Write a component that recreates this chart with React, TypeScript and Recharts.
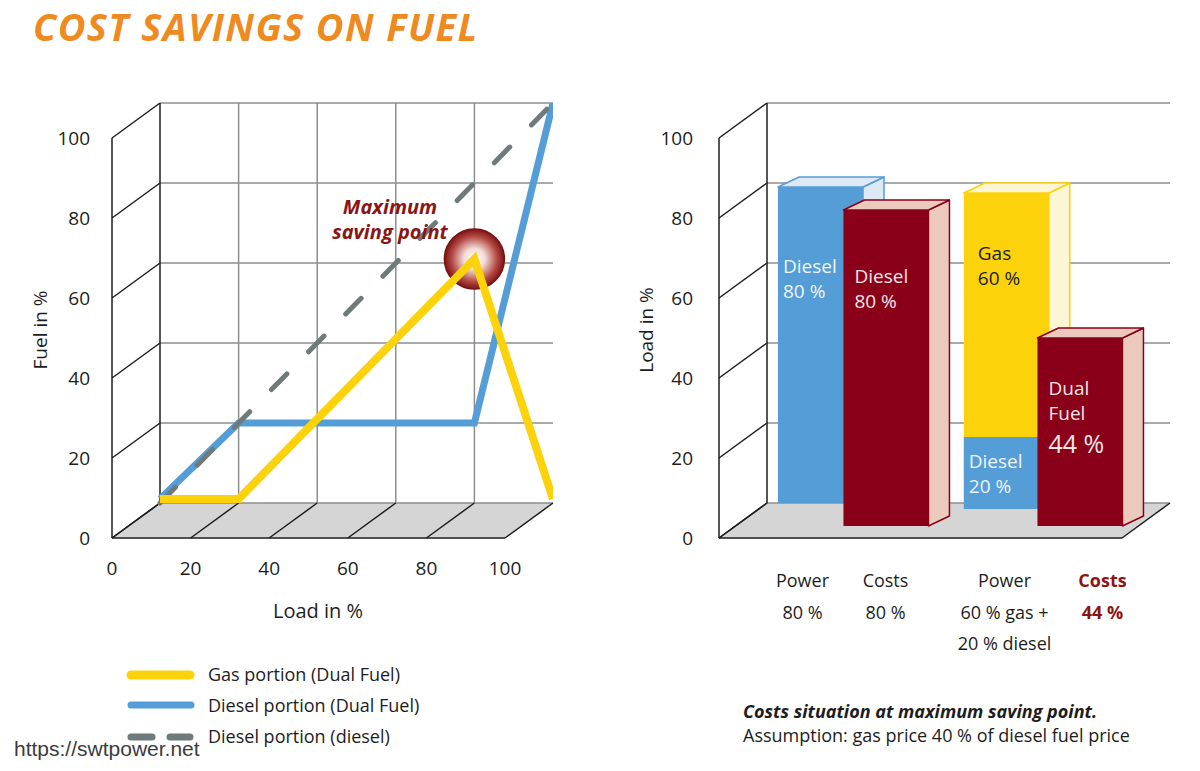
import {
  Area,
  Bar,
  BarChart,
  ComposedChart,
  Line,
  LineChart,
  ReferenceDot,
  ReferenceLine,
  XAxis,
  YAxis,
} from 'recharts';

// left chart: fuel share against engine load
const LOAD = [0, 20, 80, 100];
const GAS_DUAL = [1, 1, 61, 1];
const DIESEL_DUAL = [1, 20, 20, 100];
const DIESEL_ONLY = [0, 20, 80, 100];
const SAVING_LOAD = 80;
const SAVING_FUEL = 61;
const AXIS_TICKS = [0, 20, 40, 60, 80, 100];

// right chart: costs at the maximum saving point
const BAR_KEYS = ['power-diesel', 'costs-diesel', 'power-dual', 'costs-dual'];
const BAR_DIESEL = [79, null, 18, null];
const BAR_GAS = [null, null, 61, null];
const BAR_COST = [null, 79, null, 47];
const BAR_TICKS = [['Power', '80 %'], ['Costs', '80 %'], ['Power', '60 % gas +', '20 % diesel'], ['Costs', '44 %']];
const DIESEL_TEXT = [['Diesel', '80 %'], [], ['Diesel', '20 %'], []];
const GAS_TEXT = [[], [], ['Gas', '60 %'], []];
const COST_TEXT = [[], ['Diesel', '80 %'], [], ['Dual', 'Fuel', '44 %']];

const LEGEND = ['Gas portion (Dual Fuel)', 'Diesel portion (Dual Fuel)', 'Diesel portion (diesel)'];

const FONT = '"Open Sans", "Noto Sans", sans-serif';
const INK = '#1d1d1d';
const YELLOW = '#fcd20a';
const BLUE = '#559dd6';
const GRAY = '#6f7b7b';
const RED = '#8a0019';
const DARK_RED = '#8b1414';
const ORANGE = '#ef8a1f';
const FLOOR = '#d5d5d5';
const GRID = '#8e8e8e';
const EDGE = '#1e1e1e';

const CHART_W = 600;
const CHART_H = 660;
const WALL_TOP = 103;
const WALL_BOTTOM = 503;
const AXIS_W = 60;
const AXIS_H = 40;
const DEPTH = { x: 48, y: 35 }; // front edge sits this far left / below the back wall
const BOX = { x: 21, y: 10 }; // bar thickness
const BAR_SHIFT = [0, 23, 6, 23]; // how far each bar stands out from the wall
const TICK_DX = [-18, -32, -10, -9];
const FUEL_LEFT = 112;
const FUEL_RIGHT = 47;

const DIESEL_STYLE = { textX: [5, 0, 5, 0], textY: [86, 0, 31, 0], color: '#eef4fb' };
const GAS_STYLE = { textX: [0, 0, 14, 0], textY: [0, 0, 67, 0], color: INK };
const COST_STYLE = { textX: [0, 11, 0, 11], textY: [0, 73, 0, 57], color: '#f6e6e6' };

const tickStyle = { fill: INK, fontSize: 19, fontFamily: FONT };

function depthUnits(left: number, right: number) {
  const plotW = CHART_W - left - right;
  return {
    dx: (100 * DEPTH.x) / (plotW - DEPTH.x),
    dy: (100 * DEPTH.y) / (WALL_BOTTOM - WALL_TOP),
  };
}

function Frame3D({ left, right, labelMargin, showX, verticalGrid, floorLines, children }: any) {
  const { dx, dy } = depthUnits(left, right);
  const floor = [
    { x: -dx, floor: [-dy, -dy] },
    { x: 0, floor: [-dy, 0] },
    { x: 100 - dx, floor: [-dy, 0] },
    { x: 100, floor: [0, 0] },
  ];
  const floorTicks = floorLines ? AXIS_TICKS : [0, 100];
  const bottom = CHART_H - WALL_BOTTOM - DEPTH.y;
  const edge = { stroke: EDGE, strokeWidth: 1.5 };

  return (
    <ComposedChart
      width={CHART_W}
      height={CHART_H}
      margin={{ top: WALL_TOP, bottom: showX ? bottom - AXIS_H : bottom, left: left - AXIS_W, right }}
    >
      <XAxis
        type="number"
        dataKey="x"
        domain={[-dx, 100]}
        allowDataOverflow
        hide={!showX}
        height={AXIS_H}
        ticks={AXIS_TICKS.map((v) => v - dx)}
        tickFormatter={(v) => String(Math.round(v + dx))}
        axisLine={false}
        tickLine={false}
        tickSize={0}
        tickMargin={24}
        tick={tickStyle}
      />
      <YAxis
        type="number"
        domain={[-dy, 100]}
        allowDataOverflow
        width={AXIS_W}
        ticks={AXIS_TICKS.map((v) => v - dy)}
        tickFormatter={(v) => String(Math.round(v + dy))}
        axisLine={false}
        tickLine={false}
        tickSize={0}
        tickMargin={labelMargin}
        tick={tickStyle}
      />
      <Area data={floor} dataKey="floor" type="linear" stroke="none" fill={FLOOR} fillOpacity={1} isAnimationActive={false} />
      {AXIS_TICKS.map((v) => (
        <ReferenceLine key={`h${v}`} segment={[{ x: 0, y: v }, { x: 100, y: v }]} stroke={GRID} strokeWidth={1.5} />
      ))}
      {verticalGrid &&
        AXIS_TICKS.slice(1, -1).map((v) => (
          <ReferenceLine key={`v${v}`} segment={[{ x: v, y: 0 }, { x: v, y: 100 }]} stroke={GRID} strokeWidth={1.5} />
        ))}
      <ReferenceLine segment={[{ x: 0, y: 0 }, { x: 0, y: 100 }]} {...edge} />
      <ReferenceLine segment={[{ x: -dx, y: -dy }, { x: -dx, y: 100 - dy }]} {...edge} />
      {AXIS_TICKS.map((v) => (
        <ReferenceLine key={`w${v}`} segment={[{ x: -dx, y: v - dy }, { x: 0, y: v }]} {...edge} />
      ))}
      <ReferenceLine segment={[{ x: -dx, y: -dy }, { x: 100 - dx, y: -dy }]} {...edge} />
      {floorTicks.map((v) => (
        <ReferenceLine key={`f${v}`} segment={[{ x: v - dx, y: -dy }, { x: v, y: 0 }]} {...edge} />
      ))}
      {children}
    </ComposedChart>
  );
}

// lines sit in a second chart with the same scales, so they stay above the frame and the ball
function FuelLines() {
  const { dx, dy } = depthUnits(FUEL_LEFT, FUEL_RIGHT);
  const data = LOAD.map((load, i) => ({
    x: load,
    gas: GAS_DUAL[i],
    dieselDual: DIESEL_DUAL[i],
    diesel: DIESEL_ONLY[i],
  }));

  return (
    <LineChart
      width={CHART_W}
      height={CHART_H}
      data={data}
      margin={{ top: WALL_TOP, bottom: CHART_H - WALL_BOTTOM - DEPTH.y, left: FUEL_LEFT, right: FUEL_RIGHT }}
    >
      <XAxis type="number" dataKey="x" domain={[-dx, 100]} allowDataOverflow hide />
      <YAxis type="number" domain={[-dy, 100]} allowDataOverflow hide />
      <Line dataKey="dieselDual" type="linear" stroke={BLUE} strokeWidth={7} dot={false} activeDot={false} isAnimationActive={false} />
      <Line dataKey="diesel" type="linear" stroke={GRAY} strokeWidth={5} strokeDasharray="22 31" strokeLinecap="round" dot={false} activeDot={false} isAnimationActive={false} />
      <Line dataKey="gas" type="linear" stroke={YELLOW} strokeWidth={8} dot={false} activeDot={false} isAnimationActive={false} />
    </LineChart>
  );
}

function FuelChart() {
  return (
    <div style={{ position: 'relative', width: CHART_W, height: CHART_H }}>
      <Frame3D left={FUEL_LEFT} right={FUEL_RIGHT} labelMargin={22} showX verticalGrid floorLines>
        <defs>
          <radialGradient id="savingBall" cx="50%" cy="50%" r="50%">
            <stop offset="0%" stopColor="#ffffff" />
            <stop offset="35%" stopColor="#f3dcd6" />
            <stop offset="75%" stopColor="#b44a45" />
            <stop offset="100%" stopColor="#7d1414" />
          </radialGradient>
        </defs>
        <ReferenceDot x={SAVING_LOAD} y={SAVING_FUEL} r={30} fill="url(#savingBall)" stroke="#7a1212" strokeWidth={1.5} />
      </Frame3D>
      <div style={{ position: 'absolute', left: 0, top: 0 }}>
        <FuelLines />
      </div>
    </div>
  );
}

function Box3D(props: any) {
  const { x, y, width, height, payload, face, side, text, style, tops } = props;
  const index = payload ? BAR_KEYS.indexOf(payload.name) : props.index;
  if (!height || height <= 0 || index < 0) return <g />;
  const z = BAR_SHIFT[index];
  const fx = x - (z * DEPTH.x) / DEPTH.y;
  const fy = y + z;
  const r = fx + width;
  const topFace = `${fx},${fy} ${fx + BOX.x},${fy - BOX.y} ${r + BOX.x},${fy - BOX.y} ${r},${fy}`;
  const sideFace = `${r},${fy} ${r + BOX.x},${fy - BOX.y} ${r + BOX.x},${fy + height - BOX.y} ${r},${fy + height}`;
  const lines: string[] = text[index] ?? [];
  const tx = fx + style.textX[index];
  let ty = fy + style.textY[index];

  return (
    <g>
      <polygon points={sideFace} fill={side} stroke={face} strokeWidth={1.5} strokeLinejoin="round" />
      {tops[index] && <polygon points={topFace} fill={side} stroke={face} strokeWidth={1.5} strokeLinejoin="round" />}
      <rect x={fx} y={fy} width={width} height={height} fill={face} />
      {lines.map((line, i) => {
        const big = line.includes('%') && lines.length > 2;
        if (i > 0) ty += big ? 33 : 25;
        return (
          <text key={i} x={tx} y={ty} fill={style.color} fontSize={big ? 25 : 19} fontFamily={FONT}>
            {line}
          </text>
        );
      })}
    </g>
  );
}

function CategoryTick(props: any) {
  const { x, y, payload } = props;
  const index = BAR_KEYS.indexOf(payload.value);
  const lines = BAR_TICKS[index] ?? [];
  const last = index === BAR_KEYS.length - 1;
  const cx = x + TICK_DX[index];
  return (
    <text
      x={cx}
      y={y + 84}
      textAnchor="middle"
      fontSize={18}
      fontFamily={FONT}
      fontWeight={last ? 700 : 400}
      fill={last ? DARK_RED : INK}
    >
      {lines.map((line, i) => (
        <tspan key={i} x={cx} dy={i === 0 ? 0 : 31.5}>
          {line}
        </tspan>
      ))}
    </text>
  );
}

function CostBars() {
  const rows = BAR_KEYS.map((name, i) => ({
    name,
    diesel: BAR_DIESEL[i],
    gas: BAR_GAS[i],
    cost: BAR_COST[i],
  }));
  const dieselTops = BAR_GAS.map((v) => v == null);
  const allTops = BAR_KEYS.map(() => true);

  return (
    <BarChart
      width={CHART_W}
      height={CHART_H}
      data={rows}
      barSize={85}
      margin={{ top: WALL_TOP, bottom: CHART_H - WALL_BOTTOM - 150, left: 172, right: 40 }}
    >
      <XAxis dataKey="name" height={150} interval={0} axisLine={false} tickLine={false} tickSize={0} tickMargin={0} tick={<CategoryTick />} />
      <YAxis hide domain={[0, 100]} />
      <Bar
        dataKey="diesel"
        stackId="fuel"
        fill={BLUE}
        isAnimationActive={false}
        shape={(p: any) => <Box3D {...p} face={BLUE} side="#dde9f6" text={DIESEL_TEXT} style={DIESEL_STYLE} tops={dieselTops} />}
      />
      <Bar
        dataKey="gas"
        stackId="fuel"
        fill={YELLOW}
        isAnimationActive={false}
        shape={(p: any) => <Box3D {...p} face={YELLOW} side="#fdf6d4" text={GAS_TEXT} style={GAS_STYLE} tops={allTops} />}
      />
      <Bar
        dataKey="cost"
        stackId="fuel"
        fill={RED}
        isAnimationActive={false}
        shape={(p: any) => <Box3D {...p} face={RED} side="#ebcabd" text={COST_TEXT} style={COST_STYLE} tops={allTops} />}
      />
    </BarChart>
  );
}

export default function App() {
  return (
    <div style={{ position: 'relative', width: 1200, height: 771, background: '#fff', overflow: 'hidden', fontFamily: FONT }}>
      <style>{'body { margin: 0; }'}</style>
      <div style={{ position: 'absolute', left: 0, top: 0 }}>
        <FuelChart />
      </div>
      <div style={{ position: 'absolute', left: 600, top: 0 }}>
        <Frame3D left={119} right={30} labelMargin={26} showX={false} verticalGrid={false} floorLines={false} />
      </div>
      <div style={{ position: 'absolute', left: 600, top: 0 }}>
        <CostBars />
      </div>
      <div
        style={{
          position: 'absolute',
          left: 33,
          top: 0,
          fontSize: 38,
          lineHeight: 'normal',
          fontWeight: 700,
          fontStyle: 'italic',
          letterSpacing: 1.4,
          color: ORANGE,
          whiteSpace: 'nowrap',
        }}
      >
        COST SAVINGS ON FUEL
      </div>
      <svg width={1200} height={771} style={{ position: 'absolute', left: 0, top: 0, pointerEvents: 'none' }} fontFamily={FONT}>
        <text x={390} y={214} textAnchor="middle" fontSize={20} fontWeight={700} fontStyle="italic" fill={DARK_RED}>
          Maximum
        </text>
        <text x={390} y={239} textAnchor="middle" fontSize={20} fontWeight={700} fontStyle="italic" fill={DARK_RED}>
          saving point
        </text>
        <text transform="translate(47,330) rotate(-90)" textAnchor="middle" fontSize={19} fill={INK}>
          Fuel in %
        </text>
        <text x={318} y={618} textAnchor="middle" fontSize={20} fill={INK}>
          Load in %
        </text>
        <text transform="translate(653,330) rotate(-90)" textAnchor="middle" fontSize={19} fill={INK}>
          Load in %
        </text>

        <line x1={131} x2={190} y1={675} y2={675} stroke={YELLOW} strokeWidth={9} strokeLinecap="round" />
        <line x1={131} x2={191} y1={705} y2={705} stroke={BLUE} strokeWidth={7} strokeLinecap="round" />
        <line x1={131} x2={152} y1={737} y2={737} stroke={GRAY} strokeWidth={7} strokeLinecap="round" />
        <line x1={170} x2={190} y1={737} y2={737} stroke={GRAY} strokeWidth={7} strokeLinecap="round" />
        {LEGEND.map((label, i) => (
          <text key={label} x={208} y={681 + i * 31} fontSize={18} fill={INK}>
            {label}
          </text>
        ))}

        <text x={743} y={718} fontSize={18} fontWeight={700} fontStyle="italic" fill={INK}>
          Costs situation at maximum saving point.
        </text>
        <text x={743} y={742} fontSize={18} fill={INK}>
          Assumption: gas price 40 % of diesel fuel price
        </text>
        <text x={14} y={756} fontSize={21} fill="#3c3c3c" fontFamily='"Liberation Sans", Arial, sans-serif'>
          https://swtpower.net
        </text>
      </svg>
    </div>
  );
}
